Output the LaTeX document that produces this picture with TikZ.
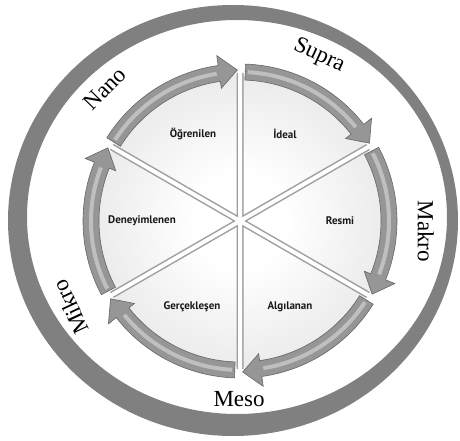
\documentclass[tikz,border=0pt]{standalone}
\usepackage{fontspec}
\setmainfont{Liberation Serif}
\newfontfamily\slicefont{PT Sans}
\usetikzlibrary{positioning}

\pgfdeclareradialshading{pieshade}{\pgfpoint{0bp}{0bp}}{color(0bp)=(white); color(8bp)=(white); color(30bp)=(gray!20); color(50bp)=(gray!42)}

% one curved arrow of the cycle: #1 tail angle, #2 head angle
\newcommand{\cyclearrow}[2]{%
  \filldraw[arrowbody] (#1:157) arc[start angle=#1, end angle=#2+8, radius=157]
    -- (#2+8:167) -- (#2+1:151) -- (#2+8:134) -- (#2+8:141)
    arc[start angle=#2+8, end angle=#1, radius=141] -- cycle;
  \draw[arrowshine] (#1-1:149) arc[start angle=#1-1, end angle=#2+9, radius=149];
}

\begin{document}
\begin{tikzpicture}[x=1pt,y=1pt,
  ring/.style={fill=gray, even odd rule},
  arrowbody/.style={fill=gray!82, draw=black!60, line width=0.6pt},
  arrowshine/.style={draw=gray!50, line width=4pt},
  gapshadow/.style={draw=gray!75, line width=7pt},
  gapline/.style={draw=white, line width=4pt},
  level/.style={font=\fontsize{23}{23}\selectfont},
  slice/.style={font=\slicefont\bfseries\fontsize{11}{12}\selectfont, text=black!90}]
  \useasboundingbox (-240,-220) rectangle (220,221);

  % outer ring
  \fill[ring] (-7,0.5) ellipse [x radius=225, y radius=215.5]
              (-3,4) ellipse [x radius=210, y radius=197];

  % pie with white gaps
  \shade[shading=pieshade] (0,0) circle (146);
  \draw[gapshadow] (90:148) -- (270:148) (30:148) -- (210:148) (150:148) -- (330:148);
  \draw[gapline] (90:150) -- (270:150) (30:150) -- (210:150) (150:150) -- (330:150);

  % arrows
  \cyclearrow{148}{90}
  \cyclearrow{88}{30}
  \cyclearrow{28}{-30}
  \cyclearrow{-32}{-90}
  \cyclearrow{268}{210}
  \cyclearrow{208}{150}

  % slice labels
  \node[slice] (ogr) at (-47,87) {Öğrenilen};
  \node[slice] (ide) at (45,87) {İdeal};
  \node[slice] (res) at (100,0) {Resmi};
  \node[slice] (alg) at (50,-86) {Algılanan};
  \node[slice] (ger) at (-48,-86) {Gerçekleşen};
  \node[slice] (den) at (-98,0) {Deneyimlenen};

  % levels
  \node[level, rotate=-25] (supra) at (64.4:183) {Supra};
  \node[level, rotate=-90] (makro) at (-3.2:186) {Makro};
  \node[level] (meso) at (-90.3:178) {Meso};
  \node[level, rotate=115] (mikro) at (207:190) {Mikro};
  \node[level, rotate=45.6] (nano) at (135.6:189) {Nano};
\end{tikzpicture}
\end{document}
